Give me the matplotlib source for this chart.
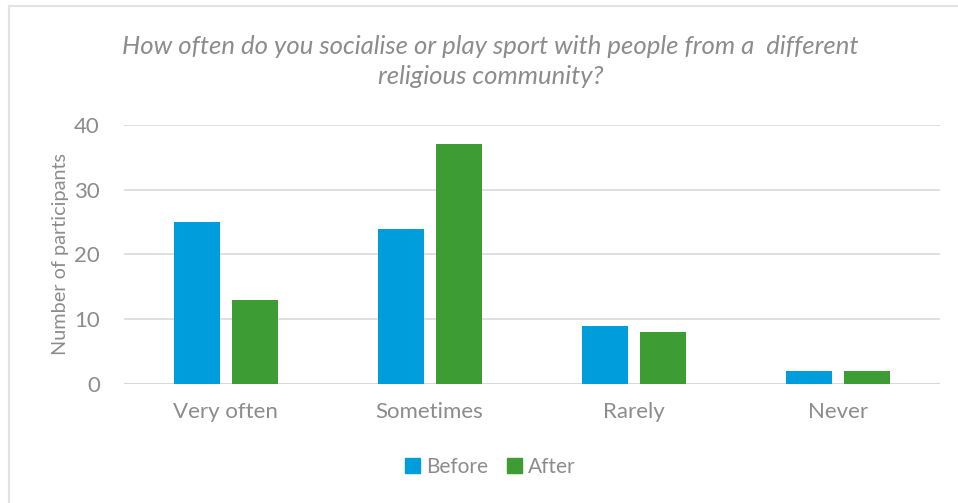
import matplotlib
import numpy as np

matplotlib.use("Agg")
import matplotlib.pyplot as plt
from matplotlib.lines import Line2D
from matplotlib.patches import Patch

CATEGORIES = ["Very often", "Sometimes", "Rarely", "Never"]
BEFORE = [25, 24, 9, 2]
AFTER = [13, 37, 8, 2]
SERIES = ["Before", "After"]
YTICKS = [0, 10, 20, 30, 40]
TITLE = "How often do you socialise or play sport with people from a  different\nreligious community?"
YLABEL = "Number of participants"

BLUE = "#009ddc"
GREEN = "#3e9c35"
TEXT = "#8c8c8c"
GRID = "#d9d9d9"

plt.rcParams["font.family"] = ["Lato", "DejaVu Sans"]

fig = plt.figure(figsize=(9.58, 5.03), dpi=100)
ax = fig.add_axes([0.129, 0.2366, 0.852, 0.515])

x = np.arange(len(CATEGORIES))
w = 0.225
off = 0.142
ax.bar(x - off, BEFORE, w, color=BLUE, zorder=3)
ax.bar(x + off, AFTER, w, color=GREEN, zorder=3)

ax.set_xlim(-0.5, len(CATEGORIES) - 0.5)
ax.set_ylim(0, 40)
ax.set_yticks(YTICKS)
ax.set_xticks(x)
ax.set_xticklabels(CATEGORIES)
ax.tick_params(axis="both", length=0, colors=TEXT, labelsize=16)
ax.tick_params(axis="x", pad=13)
ax.tick_params(axis="y", pad=17)
ax.yaxis.grid(True, color=GRID, linewidth=1.2, zorder=0)
for s in ax.spines.values():
    s.set_visible(False)
ax.axhline(0, color=GRID, linewidth=1.5, zorder=2)

ax.set_ylabel(YLABEL, color=TEXT, fontsize=14.3)
ax.yaxis.set_label_coords(-0.067, 0.5)

fig.text(0.512, 0.878, TITLE, ha="center", va="center", color=TEXT,
         fontsize=18.5, style="italic", linespacing=1.35)

handles = [Patch(color=BLUE), Patch(color=GREEN)]
fig.legend(handles, SERIES, loc="center", bbox_to_anchor=(0.512, 0.072),
           ncol=2, frameon=False, fontsize=15, labelcolor=TEXT,
           handlelength=0.7, handleheight=0.7, handletextpad=0.3,
           columnspacing=0.9)

# outer chart frame (only top and left edges fall inside the canvas)
fig.add_artist(Line2D([9 / 958, 1], [1 - 6 / 503] * 2, transform=fig.transFigure,
                      color="#e3e3e3", linewidth=1.5))
fig.add_artist(Line2D([9 / 958] * 2, [0, 1 - 6 / 503], transform=fig.transFigure,
                      color="#e3e3e3", linewidth=1.5))

fig.savefig("out.png", dpi=100)
